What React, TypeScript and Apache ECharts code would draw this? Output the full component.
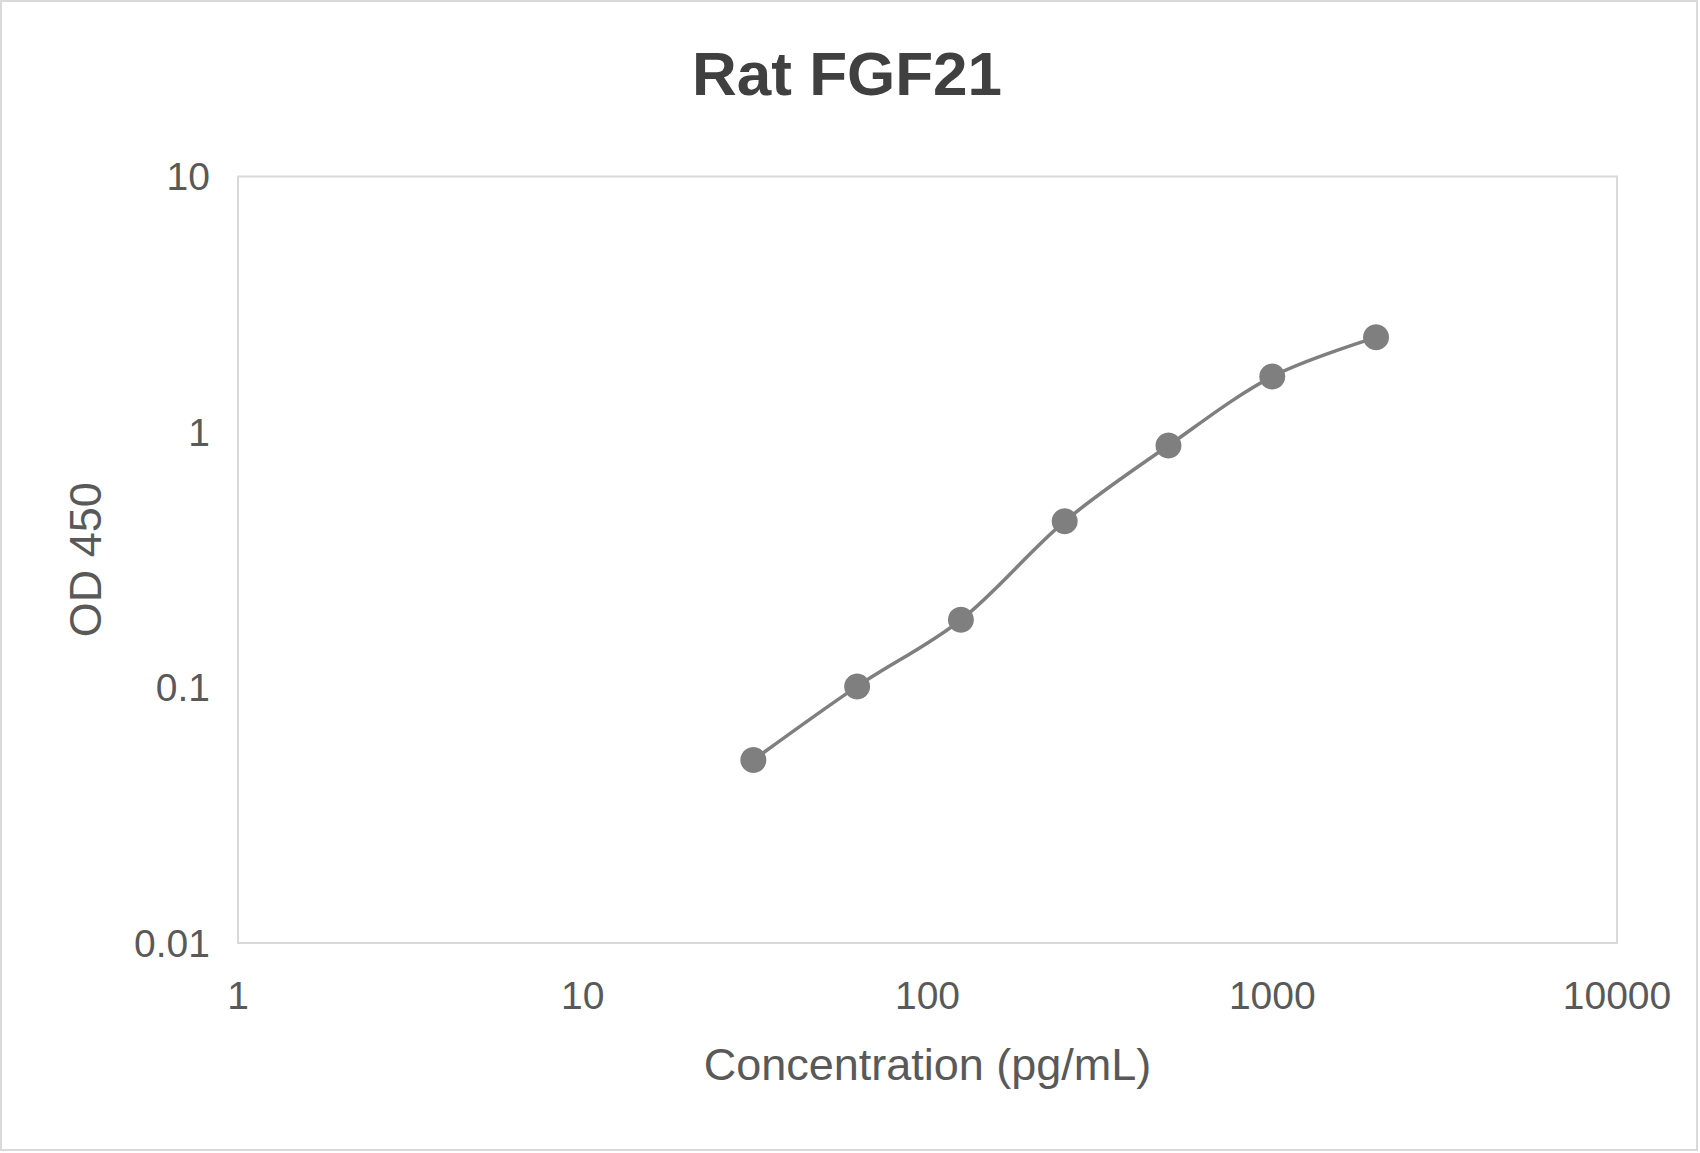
import { useEffect, useRef } from 'react';
import * as echarts from 'echarts';

const concentrations = [31.25, 62.5, 125, 250, 500, 1000, 2000];
const odValues = [0.052, 0.101, 0.184, 0.447, 0.885, 1.648, 2.347];

const FONT = '"Liberation Sans", Arial, sans-serif';
const TEXT_COLOR = '#595959';

const fmt = (v: number) => String(Number(v.toPrecision(6)));

export default function App() {
  const chartRef = useRef<HTMLDivElement | null>(null);

  useEffect(() => {
    if (!chartRef.current) return;
    const chart = echarts.init(chartRef.current, null, { renderer: 'svg' });

    chart.setOption({
      animation: false,
      backgroundColor: '#ffffff',
      textStyle: { fontFamily: FONT },
      title: {
        text: 'Rat FGF21',
        left: 687,
        top: 37,
        textStyle: {
          fontFamily: FONT,
          fontSize: 62,
          lineHeight: 62,
          fontWeight: 'bold',
          color: '#404040',
        },
      },
      graphic: [
        {
          type: 'rect',
          shape: { x: 1, y: 1, width: 1696, height: 1149 },
          style: { fill: 'none', stroke: '#d9d9d9', lineWidth: 2 },
          silent: true,
        },
      ],
      grid: {
        left: 238,
        top: 176.5,
        right: 83,
        bottom: 210,
        show: true,
        borderColor: '#d9d9d9',
        borderWidth: 2,
        backgroundColor: 'transparent',
      },
      xAxis: {
        type: 'log',
        logBase: 10,
        min: 1,
        max: 10000,
        name: 'Concentration (pg/mL)',
        nameLocation: 'middle',
        nameGap: 99,
        nameTextStyle: { fontFamily: FONT, fontSize: 45, lineHeight: 45, color: TEXT_COLOR },
        axisLine: { show: false },
        axisTick: { show: false },
        splitLine: { show: false },
        axisLabel: {
          margin: 33,
          fontFamily: FONT,
          fontSize: 39,
          lineHeight: 39,
          color: TEXT_COLOR,
          showMinLabel: true,
          showMaxLabel: true,
          formatter: fmt,
        },
      },
      yAxis: {
        type: 'log',
        logBase: 10,
        min: 0.01,
        max: 10,
        name: 'OD 450',
        nameLocation: 'middle',
        nameGap: 130,
        nameTextStyle: { fontFamily: FONT, fontSize: 45, lineHeight: 45, color: TEXT_COLOR },
        axisLine: { show: false },
        axisTick: { show: false },
        splitLine: { show: false },
        axisLabel: {
          margin: 28,
          fontFamily: FONT,
          fontSize: 39,
          lineHeight: 39,
          color: TEXT_COLOR,
          showMinLabel: true,
          showMaxLabel: true,
          formatter: fmt,
        },
      },
      series: [
        {
          type: 'line',
          data: concentrations.map((c, i) => [c, odValues[i]]),
          smooth: 0.33,
          symbol: 'circle',
          symbolSize: 26,
          lineStyle: { color: '#7f7f7f', width: 3.5 },
          itemStyle: { color: '#7f7f7f' },
        },
      ],
    });

    return () => {
      chart.dispose();
    };
  }, []);

  return (
    <div
      ref={chartRef}
      style={{ position: 'fixed', left: 0, top: 0, width: 1700, height: 1153 }}
    />
  );
}
